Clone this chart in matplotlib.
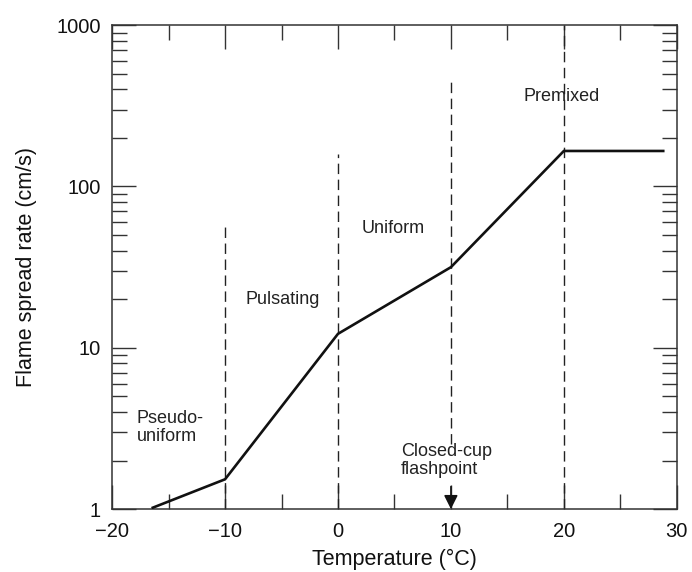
import matplotlib
matplotlib.use("Agg")
import matplotlib.pyplot as plt
from matplotlib.ticker import FixedLocator, LogLocator, NullFormatter, FuncFormatter

plt.rcParams['font.family'] = ['Liberation Sans', 'DejaVu Sans']

# Data
temp = [-16.4, -10, 0, 10, 20, 28.8]
rate = [1.02, 1.53, 12.2, 31.6, 166, 166]

boundary_x = [-10, 0, 10, 20]
boundary_top = [60, 160, 480, 1000]

regime_labels = ["Pseudo-\nuniform", "Pulsating", "Uniform", "Premixed"]
regime_x = [-17.8, -8.2, 2.1, 16.4]
regime_y = [3.2, 19.8, 55, 360]

xticks = [-20, -10, 0, 10, 20, 30]
yticks = [1, 10, 100, 1000]

fig = plt.figure(figsize=(6.92, 5.72), dpi=100)
ax = fig.add_axes([0.162, 0.110, 0.816, 0.846])

ax.plot(temp, rate, color='#111111', lw=1.9, solid_joinstyle='miter', zorder=3)

for bx, bt in zip(boundary_x, boundary_top):
    bottom = 2.55 if bx == 10 else 1
    ax.plot([bx, bx], [bottom, bt], color='#222222', lw=1.0, ls=(0, (7.5, 4)))

for lab, lx, ly in zip(regime_labels, regime_x, regime_y):
    ax.text(lx, ly, lab, fontsize=13, ha='left', va='center', color='#222222',
            linespacing=1.1)

ax.text(5.6, 2.0, "Closed-cup\nflashpoint", fontsize=13, ha='left', va='center',
        color='#222222', linespacing=1.1, zorder=4)
ax.annotate("", xy=(10, 1.0), xytext=(10, 1.38),
            arrowprops=dict(arrowstyle='-|>,head_length=0.6,head_width=0.3',
                            color='#111111', lw=1.1,
                            mutation_scale=14, shrinkA=0, shrinkB=0))

ax.set_yscale('log')
ax.set_xlim(-20, 30)
ax.set_ylim(1, 1000)
ax.xaxis.set_major_locator(FixedLocator(xticks))
ax.xaxis.set_minor_locator(FixedLocator([-15, -5, 5, 15, 25]))
ax.yaxis.set_major_locator(FixedLocator(yticks))
ax.yaxis.set_minor_locator(LogLocator(base=10, subs=range(2, 10)))
ax.yaxis.set_minor_formatter(NullFormatter())
ax.yaxis.set_major_formatter(FuncFormatter(lambda v, p: f"{int(round(v))}"))
ax.xaxis.set_major_formatter(FuncFormatter(lambda v, p: f"{int(v)}".replace('-', '\u2212')))

ax.tick_params(which='both', direction='in', top=True, right=True, color='#333333',
               labelsize=14.5, labelcolor='#111111', width=1.0)
ax.tick_params(which='major', length=17)
ax.tick_params(which='minor', length=11)
ax.tick_params(axis='x', which='major', pad=9)
ax.tick_params(axis='y', which='major', pad=8)
for s in ax.spines.values():
    s.set_color('#333333')
    s.set_linewidth(1.1)

ax.set_xlabel("Temperature (°C)", fontsize=15.5, color='#111111', labelpad=6)
ax.set_ylabel("Flame spread rate (cm/s)", fontsize=15.5, color='#111111', labelpad=14)

fig.savefig("out.png", dpi=100)
